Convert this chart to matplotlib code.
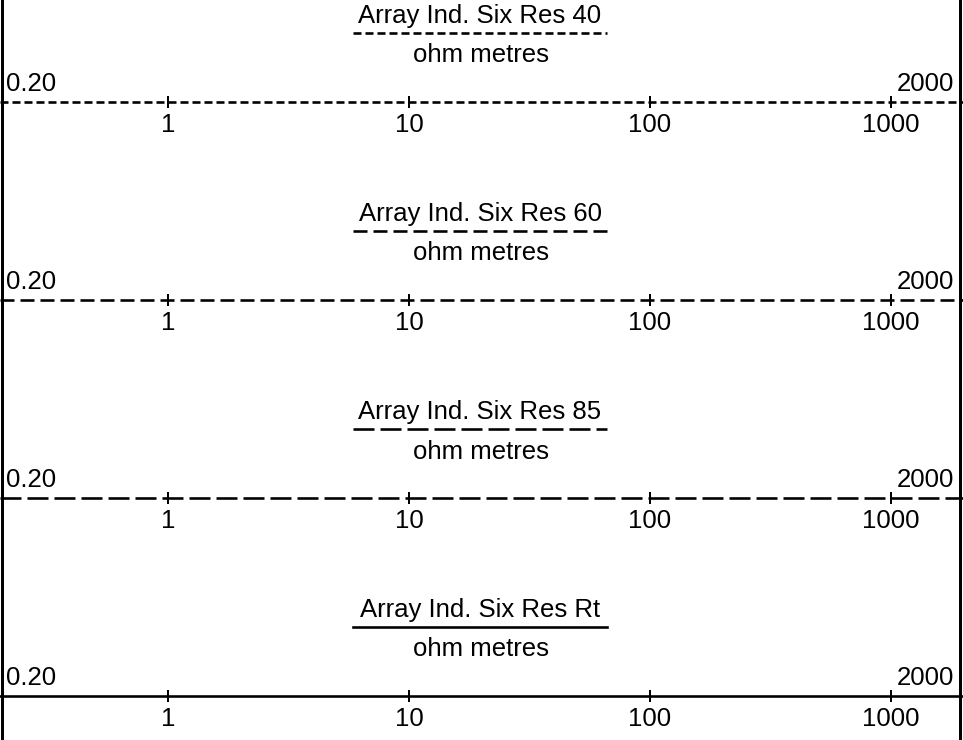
import matplotlib
matplotlib.use("Agg")
import matplotlib.pyplot as plt
from matplotlib.lines import Line2D

plt.rcParams['font.family'] = ['Liberation Sans', 'DejaVu Sans']
plt.rcParams['lines.scale_dashes'] = False

W, H = 963, 740
PT = 0.72  # points per pixel at dpi 100

# track header contents
curve_names = ["Array Ind. Six Res 40", "Array Ind. Six Res 60",
               "Array Ind. Six Res 85", "Array Ind. Six Res Rt"]
units = "ohm metres"
scale_left = 0.2
scale_right = 2000
left_label = "0.20"
right_label = "2000"
tick_values = [1, 10, 100, 1000]
tick_labels = ["1", "10", "100", "1000"]

# dash pattern per curve in pixels (None = solid)
dashes_px = [(8, 4), (14, 6), (21, 6), None]


def fx(px):
    return px / W


def fy(py):
    return 1 - py / H


def style(d):
    if d is None:
        return '-'
    return (0, (d[0] * PT, d[1] * PT))


fig = plt.figure(figsize=(W / 100, H / 100), dpi=100)
lw = 2.6 * PT
fs = 18.5

for k, name in enumerate(curve_names):
    base = 102 + k * 198
    ls = style(dashes_px[k])

    ax = fig.add_axes([0, fy(base), 1, 150 / H])
    ax.set_xscale('log')
    ax.set_xlim(scale_left, scale_right)
    ax.set_ylim(0, 1)
    for s in ax.spines.values():
        s.set_visible(False)
    ax.patch.set_alpha(0)
    ax.set_yticks([])
    ax.set_xticks(tick_values)
    ax.set_xticklabels(tick_labels)
    ax.minorticks_off()
    ax.tick_params(axis='x', direction='inout', length=12 * PT, width=2 * PT,
                   labelsize=fs, pad=3.5, colors='black')
    ax.axhline(0, color='black', lw=lw, ls=ls, clip_on=False)

    # header text
    fig.text(fx(480), fy(base - 79.5), name, ha='center', va='baseline', fontsize=fs)
    fig.add_artist(Line2D([fx(353), fx(607)], [fy(base - 69)] * 2,
                          color='black', lw=lw, ls=ls))
    fig.text(fx(481), fy(base - 39.5), units, ha='center', va='baseline', fontsize=fs)
    fig.text(fx(6), fy(base - 11), left_label, ha='left', va='baseline', fontsize=fs)
    fig.text(fx(954), fy(base - 11), right_label, ha='right', va='baseline', fontsize=fs)

# track borders
fig.add_artist(Line2D([fx(1.5)] * 2, [0, 1], color='black', lw=3 * PT))
fig.add_artist(Line2D([fx(960)] * 2, [0, 1], color='black', lw=3 * PT))

fig.savefig("out.png", dpi=100)
